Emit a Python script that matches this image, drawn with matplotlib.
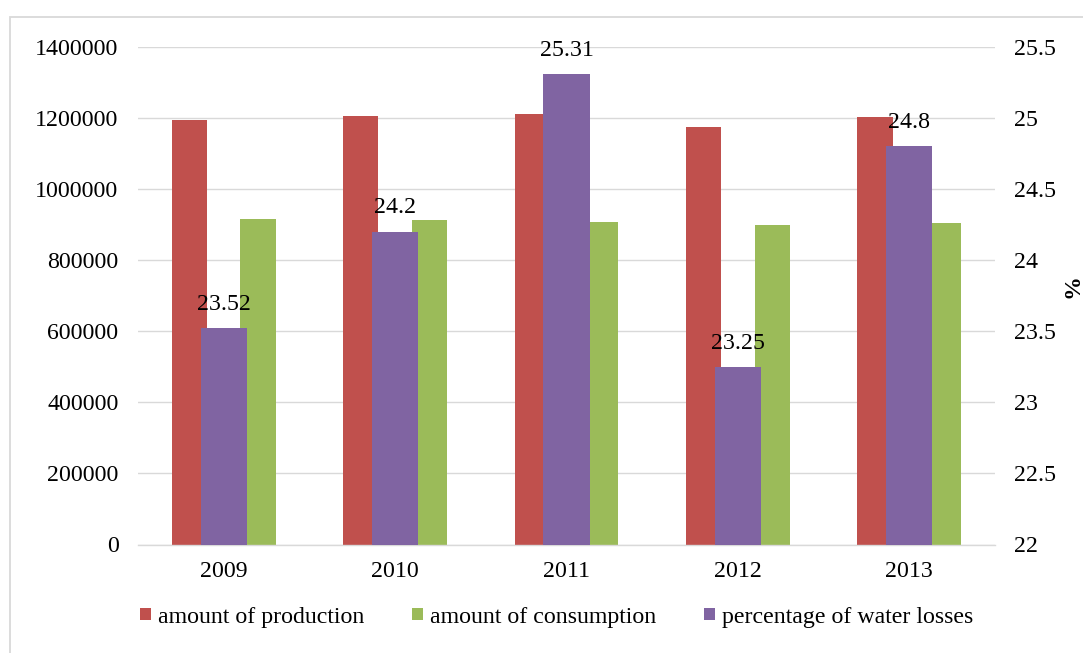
import matplotlib
matplotlib.use("Agg")
import matplotlib.pyplot as plt
import numpy as np
from matplotlib.patches import Rectangle
from matplotlib.ticker import FuncFormatter, MultipleLocator

plt.rcParams["font.family"] = ["Liberation Serif", "DejaVu Serif"]

years = ["2009", "2010", "2011", "2012", "2013"]
production = [1194000, 1205000, 1212000, 1174000, 1203000]
consumption = [914500, 912500, 906000, 899500, 904000]
water_losses = [23.52, 24.2, 25.31, 23.25, 24.8]

RED = "#C0504D"
GREEN = "#9BBB59"
PURPLE = "#8064A2"
GRID = "#D9D9D9"
FS = 17.2

W, H = 1083, 653
fig = plt.figure(figsize=(W / 100, H / 100), dpi=100)

# chart frame (cut off at right and bottom, like the screenshot)
fig.patches.append(Rectangle((10 / W, -0.1), 1.2, 1 - 17 / H + 0.1,
                             transform=fig.transFigure, fill=False,
                             edgecolor=GRID, linewidth=1.3))

ax = fig.add_axes([138 / W, 1 - 544.5 / H, (995 - 138) / W, (544.5 - 46.7) / H])
x = np.arange(len(years))
bw = 0.205
ax.bar(x - 0.2, production, bw, color=RED, label="amount of production", zorder=2)
ax.bar(x + 0.2, consumption, bw, color=GREEN, label="amount of consumption", zorder=2)
ax.set_ylim(0, 1400000)
ax.set_xlim(-0.5, len(years) - 0.5)
ax.yaxis.set_major_locator(MultipleLocator(200000))
ax.yaxis.set_major_formatter(FuncFormatter(lambda v, p: f"{v:.0f}"))
ax.set_xticks(x)
ax.set_xticklabels(years)
ax.grid(axis="y", color=GRID, linewidth=1.0)
ax.set_axisbelow(True)
for s in ["top", "left", "right"]:
    ax.spines[s].set_visible(False)
ax.spines["bottom"].set_color(GRID)
ax.spines["bottom"].set_linewidth(1.0)
ax.tick_params(axis="both", length=0, labelsize=FS)
ax.tick_params(axis="y", pad=14)
ax.tick_params(axis="x", pad=12)

ax2 = ax.twinx()
bars = ax2.bar(x, np.array(water_losses) - 22, 0.27, bottom=22, color=PURPLE,
               label="percentage of water losses", zorder=3)
ax2.set_ylim(22, 25.5)
ax2.yaxis.set_major_locator(MultipleLocator(0.5))
ax2.yaxis.set_major_formatter(FuncFormatter(lambda v, p: f"{v:g}"))
for s in ax2.spines.values():
    s.set_visible(False)
ax2.tick_params(axis="y", length=0, labelsize=FS, pad=14)

for xi, v in zip(x, water_losses):
    ax2.annotate(f"{v:g}", (xi, v), textcoords="offset points", xytext=(0, 17),
                 ha="center", va="center", fontsize=FS)

fig.text(1073 / W, 1 - 286 / H, "%", rotation=90, ha="center", va="center",
         fontsize=FS, fontweight="bold")

handles = [ax.containers[0], ax.containers[1], bars]
labels = ["amount of production", "amount of consumption", "percentage of water losses"]
fig.legend(handles, labels, loc="center", bbox_to_anchor=(557 / W, 1 - 617 / H),
           ncol=3, frameon=False, fontsize=FS, handlelength=0.45, handleheight=0.45,
           handletextpad=0.3, columnspacing=2.0, borderaxespad=0)

fig.savefig("out.png", dpi=100)
